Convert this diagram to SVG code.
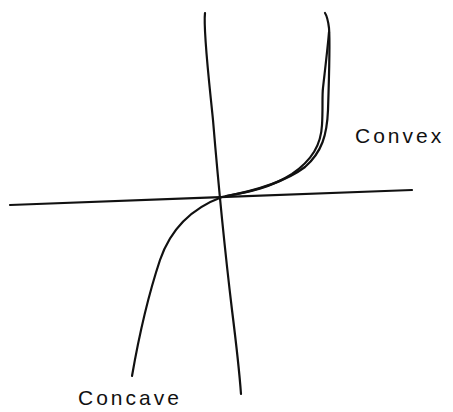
<svg xmlns="http://www.w3.org/2000/svg" width="453" height="412" viewBox="0 0 453 412">
<style>
.ln{fill:none;stroke:#111;stroke-width:2.2;stroke-linecap:round;stroke-linejoin:round}
.lb{font-family:"Liberation Sans","DejaVu Sans",sans-serif;font-size:21px;fill:#111;letter-spacing:3px}
</style>
<rect width="453" height="412" fill="#fff"/>
<g id="connectors">
<path class="ln" d="M10,205 C120,202 300,193 412,190"/>
<path class="ln" d="M205,13 C203,30 209,80 213,120 C218,180 226,260 232,310 C237,350 240,380 241,394"/>
</g>
<g id="curve">
<path class="ln" d="M132,376 C140,330 150,290 160,260 C172,225 195,207 222,197 C255,191 285,182 305,167 C322,152 327,135 328,110 C329,80 330,40 329,28 C328,20 327,16 325,13"/>
<path class="ln" d="M226,196 C250,192 272,187 292,174 C312,160 321,145 322,125 C323,110 322,95 323,88 C325,70 328,45 329,32"/>
</g>
<g id="convex"><text class="lb" x="355" y="143">Convex</text></g>
<g id="concave"><text class="lb" x="78" y="405" letter-spacing="2">Concave</text></g>
</svg>
